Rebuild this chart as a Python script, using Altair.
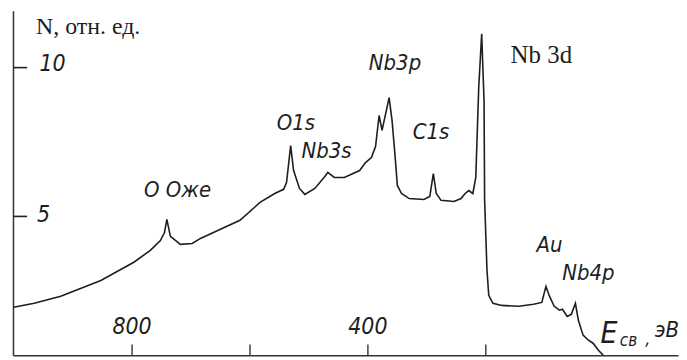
import altair as alt
import pandas as pd

# Spectrum (binding energy in eV, intensity in relative units)
energy_ev = [1001, 966, 921, 853, 797, 769, 752, 745, 741, 735, 718, 698, 684, 651, 617,
             583, 558, 543, 538, 531, 526, 516, 507, 490, 473, 468, 457, 440, 414, 404,
             394, 387, 381, 376, 364, 359, 354, 350, 343, 330, 305, 295, 289, 284, 276,
             254, 242, 235, 229, 222, 217, 212, 207, 203, 202, 198, 195, 188, 173, 144,
             119, 105, 98, 92, 84, 75, 70, 62, 55, 48, 43, 35, 26, 18, 9, 1]
intensity = [1.95, 2.08, 2.32, 2.85, 3.46, 3.86, 4.19, 4.46, 4.90, 4.33, 4.06, 4.09, 4.26, 4.56, 4.87,
             5.47, 5.77, 5.91, 6.14, 7.38, 6.54, 5.94, 5.74, 5.94, 6.34, 6.48, 6.31, 6.31, 6.54, 6.81,
             6.98, 7.35, 8.39, 7.89, 8.99, 8.22, 7.05, 6.04, 5.77, 5.60, 5.57, 5.67, 6.44, 5.77, 5.54,
             5.50, 5.60, 5.77, 5.87, 5.77, 6.31, 9.33, 11.14, 8.89, 5.54, 3.19, 2.35, 2.08, 2.01, 1.98,
             2.05, 2.11, 2.65, 2.32, 1.98, 1.85, 1.88, 1.64, 1.71, 2.08, 1.51, 1.01, 0.84, 0.74, 0.50, 0.34]

# Axis ticks
x_ticks = [800, 600, 400, 200]
x_tick_labels = ["800", "", "400", ""]
y_ticks = [10, 5]
y_tick_labels = ["10", "5"]

# Peak annotations (handwritten style)
peak_labels = ["O Oже", "O1s", "Nb3s", "Nb3p", "C1s", "Au", "Nb4p"]
peak_label_x = [723, 522, 470, 354, 293, 92, 26]
peak_label_y = [5.90, 8.15, 7.21, 10.17, 7.85, 4.03, 3.09]

X_DOMAIN = [-126, 1002]
Y_DOMAIN = [0.336, 11.91]

xs = alt.Scale(domain=X_DOMAIN, reverse=True, nice=False, zero=False)
ys = alt.Scale(domain=Y_DOMAIN, nice=False, zero=False)

HAND_FONT = "Liberation Sans Narrow, DejaVu Sans Condensed, Liberation Sans"
INK = "#1e1e1e"

spec_df = pd.DataFrame({"E": energy_ev, "N": intensity})

curve = alt.Chart(spec_df).mark_line(color=INK, strokeWidth=1.6, clip=True).encode(
    x=alt.X("E:Q", scale=xs,
            axis=alt.Axis(domain=True, domainColor="#333", domainWidth=1.5,
                          ticks=False, labels=False, grid=False, title=None)),
    y=alt.Y("N:Q", scale=ys,
            axis=alt.Axis(domain=True, domainColor="#333", domainWidth=1.5,
                          ticks=False, labels=False, grid=False, title=None)),
    order=alt.Order("idx:Q"),
).transform_window(idx="row_number()")

# inward tick marks on the energy axis
xt_df = pd.DataFrame({"E": x_ticks, "y0": [Y_DOMAIN[0]] * 4, "y1": [Y_DOMAIN[0] + 0.36] * 4})
x_tick_lines = alt.Chart(xt_df).mark_rule(color="#333", strokeWidth=1.4).encode(
    x=alt.X("E:Q", scale=xs), y=alt.Y("y0:Q", scale=ys), y2="y1:Q")

xl_df = pd.DataFrame({"E": x_ticks, "lab": x_tick_labels, "ly": [1.27] * 4})
x_tick_text = alt.Chart(xl_df).mark_text(
    font=HAND_FONT, fontStyle="italic", fontSize=23, color=INK, align="center", baseline="middle"
).encode(x=alt.X("E:Q", scale=xs), y=alt.Y("ly:Q", scale=ys), text="lab:N")

# inward tick marks on the intensity axis
yt_df = pd.DataFrame({"N": y_ticks, "e0": [X_DOMAIN[1] - 1] * 2, "e1": [X_DOMAIN[1] - 24] * 2})
y_tick_lines = alt.Chart(yt_df).mark_rule(color="#222", strokeWidth=1.6).encode(
    y=alt.Y("N:Q", scale=ys), x=alt.X("e0:Q", scale=xs), x2="e1:Q")

yl_df = pd.DataFrame({"lab": y_tick_labels, "lx": [935, 950], "ly": [10.13, 5.03]})
y_tick_text = alt.Chart(yl_df).mark_text(
    font=HAND_FONT, fontStyle="italic", fontSize=23, color=INK, align="center", baseline="middle"
).encode(x=alt.X("lx:Q", scale=xs), y=alt.Y("ly:Q", scale=ys), text="lab:N")

pk_df = pd.DataFrame({"lab": peak_labels, "E": peak_label_x, "N": peak_label_y})
peak_text = alt.Chart(pk_df).mark_text(
    font=HAND_FONT, fontStyle="italic", fontSize=22, color=INK, align="center", baseline="middle"
).encode(x=alt.X("E:Q", scale=xs), y=alt.Y("N:Q", scale=ys), text="lab:N")

ytitle = alt.Chart(pd.DataFrame({"lab": ["N, отн. ед."], "E": [963], "N": [11.36]})).mark_text(
    font="Liberation Serif", fontSize=24, color=INK, align="left", baseline="middle"
).encode(x=alt.X("E:Q", scale=xs), y=alt.Y("N:Q", scale=ys), text="lab:N")

nb3d = alt.Chart(pd.DataFrame({"lab": ["Nb 3d"], "E": [158], "N": [10.42]})).mark_text(
    font="Liberation Serif", fontSize=25, color=INK, align="left", baseline="middle"
).encode(x=alt.X("E:Q", scale=xs), y=alt.Y("N:Q", scale=ys), text="lab:N")

# Axis title E_св, эВ
e_main = alt.Chart(pd.DataFrame({"lab": ["E"], "E": [-9], "N": [1.05]})).mark_text(
    font=HAND_FONT, fontStyle="italic", fontSize=30, color=INK, align="center", baseline="middle"
).encode(x=alt.X("E:Q", scale=xs), y=alt.Y("N:Q", scale=ys), text="lab:N")
e_sub = alt.Chart(pd.DataFrame({"lab": ["св"], "E": [-42], "N": [0.80]})).mark_text(
    font=HAND_FONT, fontStyle="italic", fontSize=17, color=INK, align="center", baseline="middle"
).encode(x=alt.X("E:Q", scale=xs), y=alt.Y("N:Q", scale=ys), text="lab:N")
e_comma = alt.Chart(pd.DataFrame({"lab": [","], "E": [-75], "N": [0.85]})).mark_text(
    font=HAND_FONT, fontStyle="italic", fontSize=18, color=INK, align="center", baseline="middle"
).encode(x=alt.X("E:Q", scale=xs), y=alt.Y("N:Q", scale=ys), text="lab:N")
e_unit = alt.Chart(pd.DataFrame({"lab": ["эВ"], "E": [-107], "N": [1.17]})).mark_text(
    font=HAND_FONT, fontStyle="italic", fontSize=22, color=INK, align="center", baseline="middle"
).encode(x=alt.X("E:Q", scale=xs), y=alt.Y("N:Q", scale=ys), text="lab:N")

chart = alt.layer(
    curve, x_tick_lines, x_tick_text, y_tick_lines, y_tick_text, peak_text,
    ytitle, nb3d, e_main, e_sub, e_comma, e_unit
).properties(
    width=668, height=346,
    padding={"left": 4, "top": 2, "right": 0, "bottom": 0},
    background="white",
).configure_view(stroke=None)

chart.save("out.html", embed_options={"renderer": "svg", "actions": False})
